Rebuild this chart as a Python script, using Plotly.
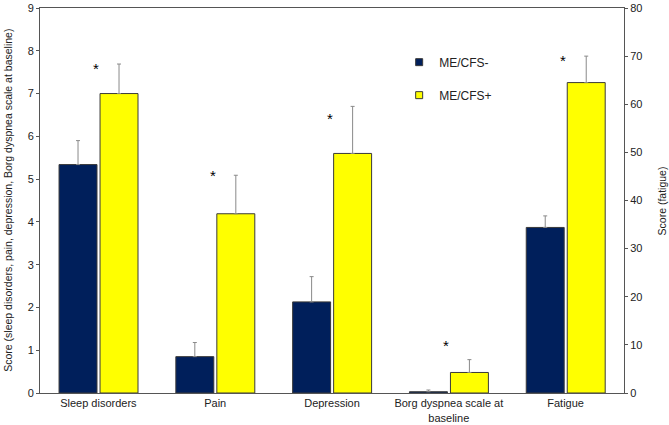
import plotly.graph_objects as go

categories = ["Sleep disorders", "Pain", "Depression", "Borg dyspnea scale at<br>baseline", "Fatigue"]
# left-axis categories (first four), right axis (fatigue)
neg_left = [5.34, 0.85, 2.13, 0.03]
neg_left_err = [0.56, 0.33, 0.59, 0.04]
pos_left = [7.0, 4.19, 5.6, 0.48]
pos_left_err = [0.69, 0.9, 1.1, 0.3]
neg_fatigue = [34.4]
neg_fatigue_err = [2.4]
pos_fatigue = [64.5]
pos_fatigue_err = [5.5]
star_y = [7.65, 5.16, 6.49, 1.17, 7.84]  # in left-axis units
left_ticks = list(range(0, 10))
right_ticks = list(range(0, 90, 10))

NAVY = "#001f5b"
YELLOW = "#ffff00"
EDGE = "#3a3a3a"
ERR = "#8a8a8a"
FONT = "Liberation Sans, Arial, sans-serif"

W = 0.325
OFF_N = -0.337
OFF_P = 0.014

fig = go.Figure()
xl = list(range(4))
def err(a):
    return dict(type="data", array=a, arrayminus=[0]*len(a), symmetric=False,
                color=ERR, thickness=1, width=2)

fig.add_trace(go.Bar(x=xl, y=neg_left, width=W, offset=OFF_N, showlegend=False,
                     marker=dict(color=NAVY, line=dict(color=EDGE, width=1)), error_y=err(neg_left_err)))
fig.add_trace(go.Bar(x=xl, y=pos_left, width=W, offset=OFF_P, showlegend=False,
                     marker=dict(color=YELLOW, line=dict(color=EDGE, width=1)), error_y=err(pos_left_err)))
fig.add_trace(go.Bar(x=[4], y=neg_fatigue, width=W, offset=OFF_N, yaxis="y2", showlegend=False,
                     marker=dict(color=NAVY, line=dict(color=EDGE, width=1)), error_y=err(neg_fatigue_err)))
fig.add_trace(go.Bar(x=[4], y=pos_fatigue, width=W, offset=OFF_P, yaxis="y2", showlegend=False,
                     marker=dict(color=YELLOW, line=dict(color=EDGE, width=1)), error_y=err(pos_fatigue_err)))
# legend entries
fig.add_trace(go.Scatter(x=[None], y=[None], mode="markers", name="ME/CFS-", legendgroup="a",
                         marker=dict(symbol="square", size=7, color=NAVY, line=dict(color=EDGE, width=1))))
fig.add_trace(go.Scatter(x=[None], y=[None], mode="markers", name="ME/CFS+", legendgroup="b",
                         marker=dict(symbol="square", size=7, color=YELLOW, line=dict(color=EDGE, width=1))))

for i, sy in enumerate(star_y):
    fig.add_annotation(x=i - 0.02, y=sy, xref="x", yref="y", text="*", showarrow=False,
                       font=dict(family=FONT, size=15, color="black"), yshift=-3)

fig.add_annotation(text="Score (sleep disorders, pain, depression, Borg dyspnea scale at baseline)",
                   xref="paper", yref="paper", x=-0.056, y=0.5, xanchor="center", yanchor="middle",
                   textangle=-90, showarrow=False, font=dict(family=FONT, size=10.5, color="#222"))
fig.add_annotation(text="Score (fatigue)", xref="paper", yref="paper", x=1.065, y=0.5,
                   xanchor="center", yanchor="middle", textangle=-90, showarrow=False,
                   font=dict(family=FONT, size=10.5, color="#222"))

fig.update_layout(
    width=669, height=425,
    margin=dict(l=40, r=45, t=8, b=32, autoexpand=False),
    paper_bgcolor="white", plot_bgcolor="white",
    font=dict(family=FONT, size=11, color="#222"),
    barmode="overlay",
    showlegend=True,
    legend=dict(x=0.615, y=0.897, xanchor="left", yanchor="top",
                font=dict(family=FONT, size=12, color="#222"),
                tracegroupgap=14, traceorder="grouped",
                bgcolor="rgba(0,0,0,0)", itemwidth=30),
    xaxis=dict(range=[-0.5, 4.5], tickvals=list(range(5)), ticktext=categories,
               showline=True, linecolor="#555", linewidth=1, mirror=True,
               ticks="", showgrid=False, zeroline=False, automargin=False,
               tickfont=dict(size=11)),
    yaxis=dict(range=[0, 9], tickvals=left_ticks, showline=True, linecolor="#555",
               linewidth=1, ticks="outside", ticklen=3, tickcolor="#555",
               showgrid=False, zeroline=False, automargin=False),
    yaxis2=dict(range=[0, 80], tickvals=right_ticks, overlaying="y", side="right",
                showline=True, linecolor="#555", linewidth=1, ticks="outside", ticklen=3,
                tickcolor="#555", showgrid=False, zeroline=False, automargin=False),
)

fig.write_html("out.html", config={"displayModeBar": False},
               post_script="document.body.style.margin='0';")
